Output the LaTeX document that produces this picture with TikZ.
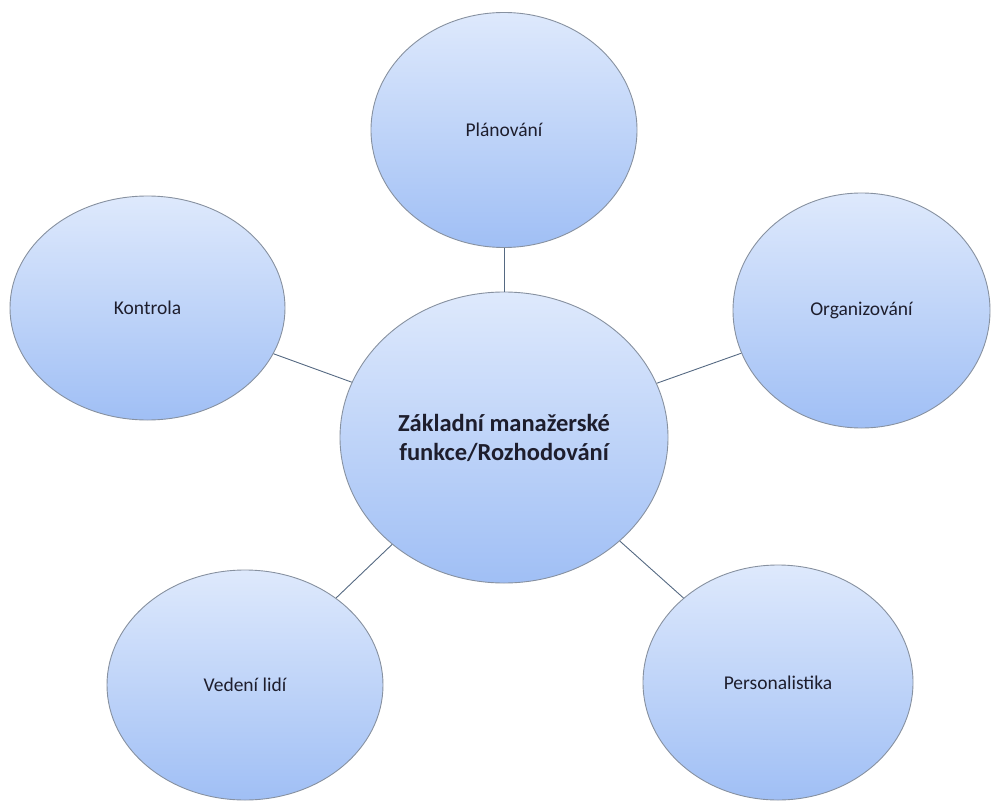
\documentclass[tikz,border=0pt]{standalone}
\usepackage{fontspec}
\setmainfont{Carlito}
\usetikzlibrary{shapes.geometric}

\definecolor{bubbletop}{RGB}{222,233,252}
\definecolor{bubblebot}{RGB}{160,191,245}
\definecolor{bubbleedge}{RGB}{135,145,160}
\definecolor{linkcol}{RGB}{85,105,130}
\definecolor{labelcol}{RGB}{30,30,45}

\tikzset{
  bubble/.style={ellipse, draw=bubbleedge, line width=0.9pt,
    top color=bubbletop, bottom color=bubblebot, inner sep=0pt,
    text=labelcol, font=\fontsize{19.5}{23}\selectfont, align=center},
  hub/.style={bubble, font=\bfseries\fontsize{24.5}{29}\selectfont},
  link/.style={draw=linkcol, line width=0.9pt}
}

\begin{document}
\begin{tikzpicture}[x=1pt, y=-1pt]
  \useasboundingbox (0,0) rectangle (992,802);

  % central function
  \node[hub, minimum width=328pt, minimum height=291pt] (hub) at (504,437.5)
    {Základní manažerské\\funkce/Rozhodování};

  % surrounding functions
  \node[bubble, minimum width=266pt, minimum height=235pt] (plan) at (504,130) {Plánování};
  \node[bubble, minimum width=257pt, minimum height=235pt] (org) at (861.5,310.5) {Organizování};
  \node[bubble, minimum width=270pt, minimum height=235pt] (pers) at (778,682.5) {Personalistika};
  \node[bubble, minimum width=276pt, minimum height=230pt] (lead) at (245,685) {Vedení lidí};
  \node[bubble, minimum width=275pt, minimum height=224pt] (ctrl) at (147.5,308) {Kontrola};

  % spokes
  \draw[link] (hub) -- (plan);
  \draw[link] (hub) -- (org);
  \draw[link] (hub) -- (pers);
  \draw[link] (hub) -- (lead);
  \draw[link] (hub) -- (ctrl);
\end{tikzpicture}
\end{document}
